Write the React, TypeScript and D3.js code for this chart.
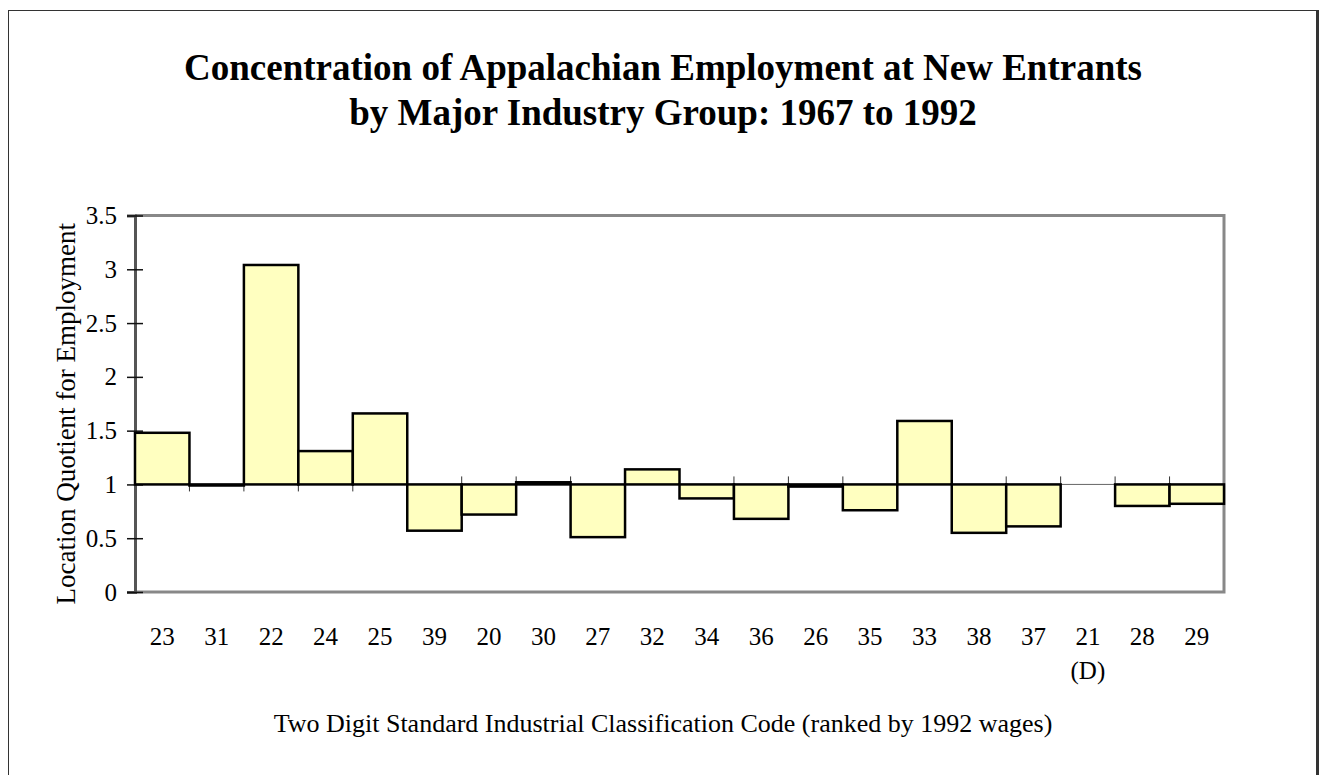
import { useEffect, useRef } from 'react';
import * as d3 from 'd3';

// SIC codes ranked by 1992 wages
const codes = ['23', '31', '22', '24', '25', '39', '20', '30', '27', '32', '34', '36', '26', '35', '33', '38', '37', '21', '28', '29'];
// location quotient (null = withheld, shown as (D))
const quotients: (number | null)[] = [1.48, 0.99, 3.04, 1.31, 1.66, 0.57, 0.72, 1.02, 0.51, 1.14, 0.87, 0.68, 0.98, 0.76, 1.59, 0.55, 0.61, null, 0.8, 0.82];
const yTicks = [0, 0.5, 1, 1.5, 2, 2.5, 3, 3.5];

const titleLines = [
  'Concentration of Appalachian Employment at New Entrants',
  'by Major Industry Group: 1967 to 1992',
];

const App = () => {
  const svgRef = useRef<SVGSVGElement>(null);

  useEffect(() => {
    const svg = d3.select(svgRef.current);
    svg.selectAll('*').remove();

    const width = 1324;
    const height = 775;
    const font = "'Liberation Serif', 'Times New Roman', serif";
    const plot = { left: 135, top: 215.5, right: 1224, bottom: 592 };

    svg.attr('width', width).attr('height', height).style('font-family', font);

    // outer frame
    svg.append('rect')
      .attr('x', 8.5).attr('y', 10.5)
      .attr('width', 1309).attr('height', 780)
      .attr('fill', 'none').attr('stroke', '#333').attr('stroke-width', 1);
    svg.append('line')
      .attr('x1', 1317.5).attr('x2', 1317.5).attr('y1', 10).attr('y2', height)
      .attr('stroke', '#333').attr('stroke-width', 3);

    // title
    svg.append('g')
      .selectAll('text')
      .data(titleLines)
      .enter()
      .append('text')
      .attr('x', 663)
      .attr('y', (d, i) => 80 + i * 45)
      .attr('text-anchor', 'middle')
      .attr('font-weight', 'bold')
      .attr('font-size', '37px')
      .text((d) => d);

    const x = d3.scaleBand<string>()
      .domain(codes)
      .range([plot.left, plot.right])
      .padding(0);

    const y = d3.scaleLinear()
      .domain([0, 3.5])
      .range([plot.bottom, plot.top]);

    // plot frame (top, right, bottom)
    svg.append('path')
      .attr('d', `M${plot.left},${plot.top}H${plot.right}V${plot.bottom}H${plot.left}`)
      .attr('fill', 'none')
      .attr('stroke', '#888')
      .attr('stroke-width', 3);

    // y axis
    const yAxis = svg.append('g')
      .attr('transform', `translate(${plot.left},0)`)
      .call(d3.axisLeft(y).tickValues(yTicks).tickSize(8).tickPadding(7).tickFormat((d) => String(d)));
    yAxis.select('.domain').attr('stroke', '#555').attr('stroke-width', 3);
    yAxis.selectAll('.tick line').attr('stroke', '#111').attr('stroke-width', 1.5).attr('x2', 8).attr('x1', -8);
    yAxis.selectAll('.tick text')
      .attr('font-family', font).attr('font-size', '25px').attr('fill', '#000').attr('x', -18);

    // baseline at 1 with category ticks
    const base = y(1);
    svg.append('line')
      .attr('x1', plot.left).attr('x2', plot.right)
      .attr('y1', base).attr('y2', base)
      .attr('stroke', '#666').attr('stroke-width', 1);

    svg.append('g')
      .selectAll('line')
      .data(codes.slice(1))
      .enter()
      .append('line')
      .attr('x1', (d) => x(d)!).attr('x2', (d) => x(d)!)
      .attr('y1', base - 8).attr('y2', base + 7)
      .attr('stroke', '#333').attr('stroke-width', 1);

    // bars from baseline 1
    const rows = codes.map((c, i) => ({ code: c, value: quotients[i] })).filter((d) => d.value !== null);
    svg.append('g')
      .selectAll('rect')
      .data(rows)
      .enter()
      .append('rect')
      .attr('x', (d) => x(d.code)!)
      .attr('y', (d) => Math.min(y(d.value!), base))
      .attr('width', x.bandwidth())
      .attr('height', (d) => Math.max(Math.abs(y(d.value!) - base), 1))
      .attr('fill', '#FFFFC0')
      .attr('stroke', '#000')
      .attr('stroke-width', 2.5);

    // category labels
    svg.append('g')
      .selectAll('text')
      .data(codes)
      .enter()
      .append('text')
      .attr('x', (d) => x(d)! + x.bandwidth() / 2)
      .attr('y', 645)
      .attr('text-anchor', 'middle')
      .attr('font-size', '25px')
      .text((d) => d);

    svg.append('text')
      .attr('x', x('21')! + x.bandwidth() / 2)
      .attr('y', 679)
      .attr('text-anchor', 'middle')
      .attr('font-size', '25px')
      .text('(D)');

    // axis titles
    svg.append('text')
      .attr('x', 663)
      .attr('y', 732)
      .attr('text-anchor', 'middle')
      .attr('font-size', '26px')
      .text('Two Digit Standard Industrial Classification Code (ranked by 1992 wages)');

    svg.append('text')
      .attr('transform', `translate(75,${(plot.top + plot.bottom) / 2 + 10}) rotate(-90)`)
      .attr('text-anchor', 'middle')
      .attr('font-size', '27px')
      .text('Location Quotient for Employment');
  }, []);

  return (
    <div style={{ position: 'absolute', left: 0, top: 0 }}>
      <svg ref={svgRef} style={{ display: 'block' }}></svg>
    </div>
  );
};

export default App;
